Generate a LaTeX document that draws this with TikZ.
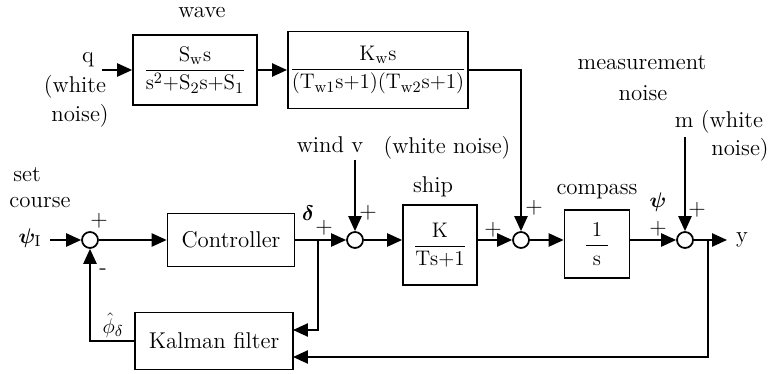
\documentclass[tikz,border=0pt]{standalone}
\usepackage{amsmath,amssymb,bm}
\usetikzlibrary{arrows.meta}

\begin{document}
\begin{tikzpicture}[x=0.02cm,y=-0.02cm,>={Triangle[length=8.5pt,width=7.5pt]},font=\fontsize{13}{15}\selectfont,line width=1pt,
  blk/.style={draw,inner sep=1pt},
  sumc/.style={draw,circle,minimum size=0.32cm,inner sep=0pt},
  lbl/.style={inner sep=1pt}]
\useasboundingbox (0,0) rectangle (770,374);
% wave filter
\node[blk,minimum width=2.48cm,minimum height=1.4cm] (wv1) at (195,70) {$\dfrac{\mathrm{S_ws}}{\mathrm{s^2{+}S_2s{+}S_1}}$};
\node[blk,minimum width=3.6cm,minimum height=1.54cm] (wv2) at (378,70) {$\dfrac{\mathrm{K_ws}}{\mathrm{(T_{w1}s{+}1)(T_{w2}s{+}1)}}$};
% main loop
\node[sumc] (sI) at (90,240) {};
\node[blk,minimum width=2.54cm,minimum height=1.06cm] (ctrl) at (231,240) {Controller};
\node[sumc] (sW) at (355,240) {};
\node[blk,minimum width=1.48cm,minimum height=1.6cm] (ship) at (440,245) {$\dfrac{\;\mathrm{K}\;}{\mathrm{Ts{+}1}}$};
\node[sumc] (sWv) at (521,240) {};
\node[blk,minimum width=1.3cm,minimum height=1.36cm] (comp) at (597,244) {$\dfrac{\;1\;}{\;\mathrm{s}\;}$};
\node[sumc] (sM) at (685,240) {};
\node[blk,minimum width=3.16cm,minimum height=1.14cm] (kal) at (214,341) {Kalman filter};
% free ends
\coordinate (qin) at (102,70);
\coordinate (psiin) at (50,240);
\coordinate (vin) at (355,160);
\coordinate (min) at (685,137);
\coordinate (yout) at (727,240);
\coordinate (dbr) at (318,240);
\coordinate (ybr) at (708,240);
\coordinate (kd) at (293,330);
\coordinate (km) at (293,357);
% connectors
\draw[->] (qin) -- (wv1);
\draw[->] (wv1) -- (wv2);
\draw[->] (wv2.east) -| (sWv);
\draw[->] (psiin) -- (sI);
\draw[->] (sI) -- (ctrl);
\draw[->] (ctrl) -- (sW);
\draw[->] (vin) -- (sW);
\draw[->] (sW) -- (ship.west |- sW);
\draw[->] (ship.east |- sWv) -- (sWv);
\draw[->] (sWv) -- (comp.west |- sWv);
\draw[->] (comp.east |- sM) -- (sM);
\draw[->] (min) -- (sM);
\draw[->] (sM) -- (yout);
\draw[->] (dbr) |- (kd);
\draw[->] (ybr) |- (km);
\draw[->] (kal.west) -| (sI);
% labels
\node[lbl] (lwave) at (202,13) {wave};
\node[lbl] (lq) at (88,60) {q};
\node[lbl] (lqw1) at (75,87) {(white};
\node[lbl] (lqw2) at (80,116) {noise)};
\node[lbl] (lset) at (27,175) {set};
\node[lbl] (lcourse) at (40,203) {course};
\node[lbl] (lpsiI) at (30,238) {$\bm{\psi}_{\mathrm{I}}$};
\node[lbl] (lp1) at (99,221) {+};
\node[lbl] (lm1) at (103,272) {-};
\node[lbl] (lphi) at (113,325) {$\hat{\phi}_{\delta}$};
\node[lbl] (ldelta) at (308,213) {$\bm{\delta}$};
\node[lbl] (lp2) at (324,228) {+};
\node[lbl] (lp3) at (368,213) {+};
\node[lbl] (lwind) at (330,145) {wind v};
\node[lbl] (lwn) at (447,148) {(white noise)};
\node[lbl] (lship) at (433,187) {ship};
\node[lbl] (lp4) at (493,230) {+};
\node[lbl] (lp5) at (534,208) {+};
\node[lbl] (lcomp) at (597,192) {compass};
\node[lbl] (lpsi) at (658,202) {$\bm{\psi}$};
\node[lbl] (lp6) at (658,229) {+};
\node[lbl] (lp7) at (697,210) {+};
\node[lbl] (lmeas) at (642,63) {measurement};
\node[lbl] (lnoise) at (643,93) {noise};
\node[lbl] (lmw) at (719,122) {m (white};
\node[lbl] (lmn) at (740,150) {noise)};
\node[lbl] (ly) at (742,240) {y};
\end{tikzpicture}
\end{document}
